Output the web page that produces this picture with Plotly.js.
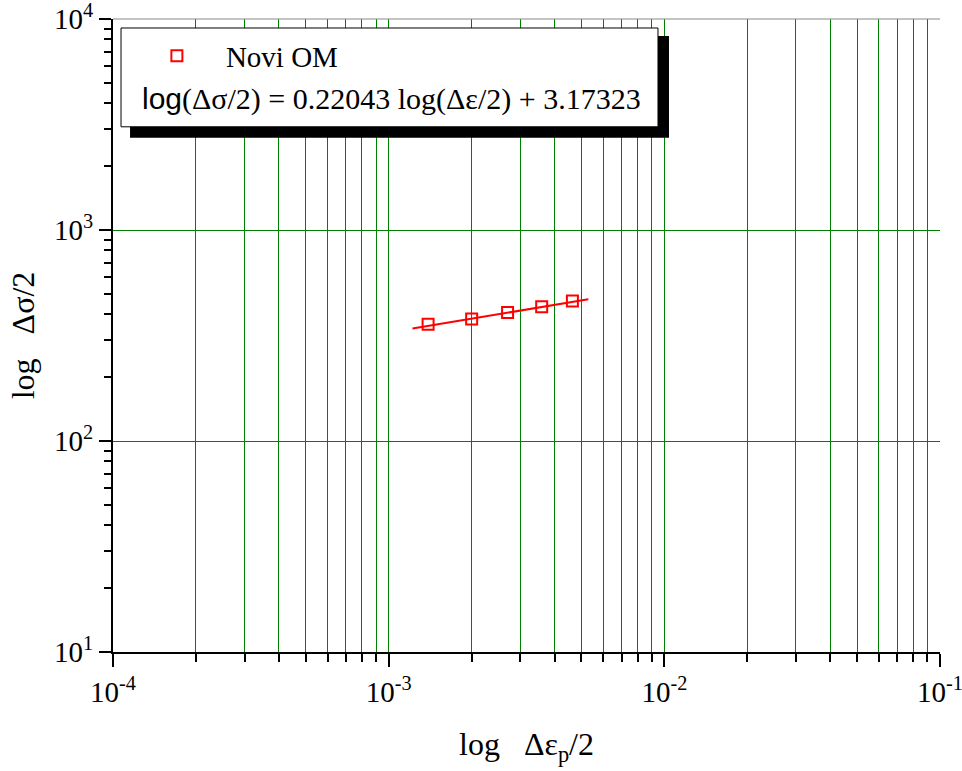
<!DOCTYPE html>
<html>
<head>
<meta charset="utf-8">
<script src="https://cdn.plot.ly/plotly-3.0.1.min.js"></script>
<style>body{margin:0;background:#fff;} #chart{width:962px;height:771px;}</style>
</head>
<body>
<div id="chart"></div>
<script>
// Data
const strainAmp = [0.00139, 0.00200, 0.00270, 0.00359, 0.00464];
const stressAmp = [358, 379, 406, 433, 461];
const fitX = [0.00122, 0.00530];
const fitY = [341, 470];
const seriesName = "Novi OM";
const xTickVals = [1e-4, 1e-3, 1e-2, 1e-1];
const xTickText = ["10<sup>-4</sup>", "10<sup>-3</sup>", "10<sup>-2</sup>", "10<sup>-1</sup>"];
const yTickVals = [10, 100, 1000, 10000];
const yTickText = ["10<sup>1</sup>", "10<sup>2</sup>", "10<sup>3</sup>", "10<sup>4</sup>"];

function minorVals(lo, hi) {
  const v = [];
  for (let e = lo; e < hi; e++) for (let m = 2; m <= 9; m++) v.push(m * Math.pow(10, e));
  return v;
}

const serif = "Liberation Serif, Times New Roman, serif";
const red = "#ff0000";
const green = "#008000";

const traces = [
  {x: fitX, y: fitY, mode: "lines", line: {color: red, width: 2}, showlegend: false, hoverinfo: "skip"},
  {x: strainAmp, y: stressAmp, mode: "markers", name: seriesName,
   marker: {symbol: "square-open", size: 11, color: red, line: {width: 2, color: red}}}
];

const layout = {
  width: 962, height: 771,
  margin: {l: 113, r: 22, t: 19, b: 119},
  paper_bgcolor: "#fff", plot_bgcolor: "#fff",
  font: {family: serif, color: "#000", size: 29},
  xaxis: {
    type: "log", range: [-4, -1],
    tickvals: xTickVals, ticktext: xTickText,
    ticklabeloverflow: "allow",
    ticks: "outside", ticklen: 13, tickwidth: 2, tickcolor: "#000",
    showline: true, linecolor: "#000", linewidth: 2,
    showgrid: true, gridcolor: green, gridwidth: 1,
    tickfont: {family: serif, size: 29},
    minor: {tickvals: minorVals(-4, -1), ticks: "outside", ticklen: 8, tickwidth: 2, tickcolor: "#000",
            showgrid: true, gridcolor: green, gridwidth: 1},
    zeroline: false,
    title: {text: "log\u00a0\u00a0\u00a0Δε<sub>p</sub>/2", font: {family: serif, size: 32}, standoff: 26}
  },
  yaxis: {
    type: "log", range: [1, 4],
    tickvals: yTickVals, ticktext: yTickText,
    ticklabeloverflow: "allow",
    ticks: "outside", ticklen: 12, tickwidth: 2, tickcolor: "#000",
    showline: true, linecolor: "#000", linewidth: 2,
    showgrid: true, gridcolor: green, gridwidth: 1,
    tickfont: {family: serif, size: 29},
    minor: {tickvals: minorVals(1, 4), ticks: "outside", ticklen: 7, tickwidth: 2, tickcolor: "#000", showgrid: false},
    zeroline: false,
    title: {text: "log\u00a0\u00a0\u00a0Δσ/2" + "\u00a0".repeat(7), font: {family: serif, size: 32}, standoff: 10}
  },
  showlegend: true,
  legend: {
    x: 0.018, y: 0.982, xanchor: "left", yanchor: "top",
    bgcolor: "rgba(0,0,0,0)", borderwidth: 0,
    font: {family: serif, size: 29},
    itemwidth: 88
  },
  shapes: [
    {type: "line", xref: "paper", yref: "paper", x0: 0, x1: 1, y0: 1, y1: 1, line: {color: "#888", width: 1}},
    {type: "rect", xref: "paper", yref: "paper", x0: 0.0206, x1: 0.6723, y0: 0.8123, y1: 0.9732,
     fillcolor: "#000", line: {width: 0}, layer: "above"},
    {type: "rect", xref: "paper", yref: "paper", x0: 0.0097, x1: 0.659, y0: 0.8297, y1: 0.9858,
     fillcolor: "#fff", line: {color: "#000", width: 1}, layer: "above"}
  ],
  annotations: [
    {xref: "paper", yref: "paper", x: (391 - 113) / 827, y: (652 - 98) / 634, xanchor: "center", yanchor: "middle",
     showarrow: false, font: {family: serif, size: 30},
     text: '<span style="font-family:Liberation Sans, Arial, sans-serif">log</span>(Δσ/2) = 0.22043 log(Δε/2) + 3.17323'}
  ]
};

Plotly.newPlot("chart", traces, layout, {displayModeBar: false, staticPlot: true});
</script>
</body>
</html>
